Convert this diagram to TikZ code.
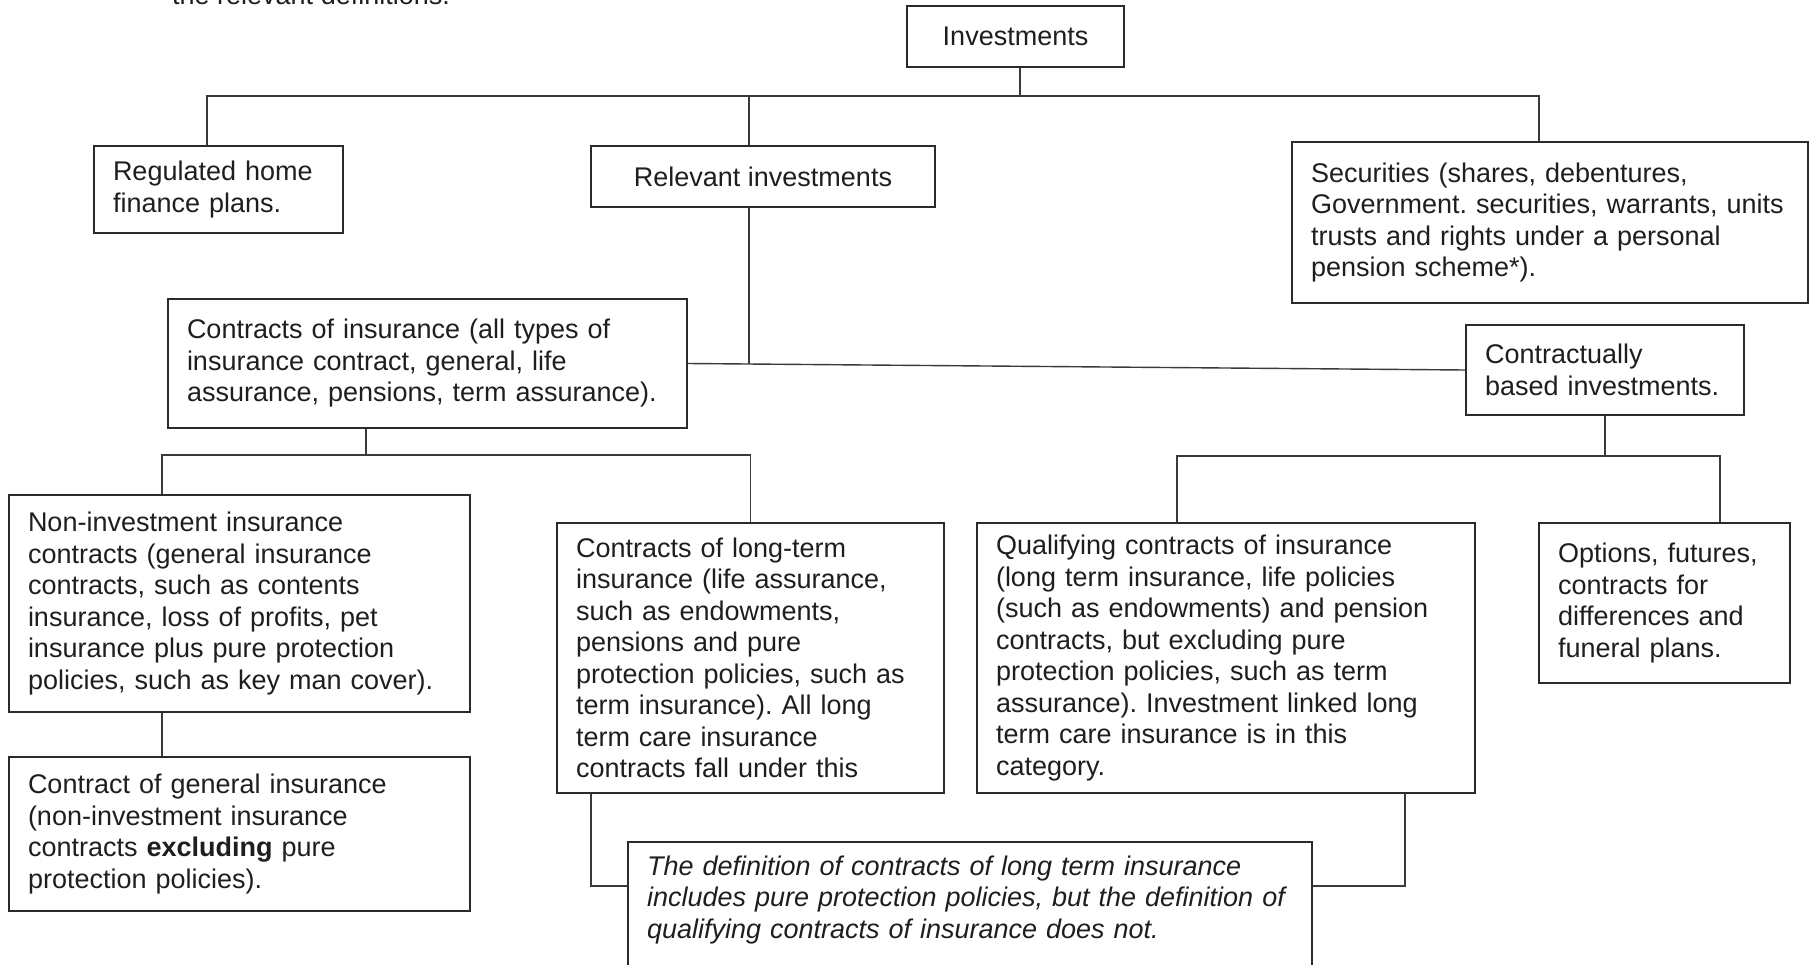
\documentclass[tikz,border=0pt]{standalone}
\usepackage{fontspec}
\setmainfont{Liberation Sans}
\frenchspacing
\definecolor{boxline}{HTML}{2B2B2B}
\definecolor{linkline}{HTML}{3A3A3A}
\definecolor{inktext}{HTML}{1E1E1E}
\tikzset{
  box/.style={draw=boxline, line width=2pt, text=inktext, inner ysep=0pt, inner xsep=19pt},
  tbox/.style 2 args={box, align=left, text width=#1pt-38pt, minimum width=#1pt, minimum height=#2pt},
  cbox/.style 2 args={box, inner xsep=0pt, minimum width=#1pt, minimum height=#2pt},
  link/.style={draw=linkline, line width=1.4pt},
}

\begin{document}
\begin{tikzpicture}[x=1pt, y=-1pt, font=\fontsize{27}{31.5}\selectfont]
\useasboundingbox (0,0) rectangle (1809,964);

\node[anchor=base west, inner sep=0pt, text=inktext] (cut) at (172,4) {the relevant definitions.};

\node[cbox={217}{61}] (inv) at (1015.5,36.5) {Investments};
\node[tbox={249}{87}] (reg) at (218.5,189.5) {Regulated home\\finance plans.};
\node[cbox={344}{61}] (rel) at (763,176.5) {Relevant investments};
\node[tbox={516}{161}] (sec) at (1550,222.5) {Securities (shares, debentures,\\Government. securities, warrants, units\\trusts and rights under a personal\\pension scheme*).};
\node[tbox={519}{129}] (cins) at (427.5,363.5) {Contracts of insurance (all types of\\insurance contract, general, life\\assurance, pensions, term assurance).};
\node[tbox={278}{90}] (cbi) at (1605,370) {Contractually\\based investments.};
\node[tbox={461}{217}] (nonins) at (239.5,603.5) {Non-investment insurance\\contracts (general insurance\\contracts, such as contents\\insurance, loss of profits, pet\\insurance plus pure protection\\policies, such as key man cover).};
\node[tbox={461}{154}] (gen) at (239.5,834) {Contract of general insurance\\(non-investment insurance\\contracts \textbf{excluding} pure\\protection policies).};
\node[tbox={387}{270}] (lti) at (750.5,658) {Contracts of long-term\\insurance (life assurance,\\such as endowments,\\pensions and pure\\protection policies, such as\\term insurance). All long\\term care insurance\\contracts fall under this};
\node[tbox={498}{270}] (qci) at (1226,658) {Qualifying contracts of insurance\\(long term insurance, life policies\\(such as endowments) and pension\\contracts, but excluding pure\\protection policies, such as term\\assurance). Investment linked long\\term care insurance is in this\\category.};
\node[tbox={251}{160}] (opt) at (1664.5,603) {Options, futures,\\contracts for\\differences and\\funeral plans.};
\node[tbox={684}{0}, anchor=north west, text height=33pt, text depth=120pt, font=\fontsize{27}{31.5}\selectfont\itshape] (def) at (627,841) {The definition of contracts of long term insurance\\includes pure protection policies, but the definition of\\qualifying contracts of insurance does not.};

\coordinate (toprow) at (0,96);
\coordinate (row2) at (0,455);
\coordinate (row3) at (0,456);
\coordinate (noteline) at (0,886);
\path (cins.east) -- (cbi.west) coordinate[pos=0.08] (midjoin);

\draw[link] ([xshift=4.5pt]inv.south) -- ([xshift=4.5pt]inv.south |- toprow);
\draw[link] ([xshift=-11.5pt]reg.north) |- ([xshift=-11pt]sec.north |- toprow) -- ([xshift=-11pt]sec.north);
\draw[link] ([xshift=-14pt]rel.north) -- ([xshift=-14pt]rel.north |- toprow);
\draw[link] ([xshift=-14pt]rel.south) -- ([xshift=-14pt]rel.south |- midjoin);
\draw[link] (cins.east) -- (cbi.west);
\draw[link] ([xshift=-61.5pt]cins.south) -- ([xshift=-61.5pt]cins.south |- row2);
\draw[link] ([xshift=-77.5pt]nonins.north) |- (lti.north |- row2) -- (lti.north);
\draw[link] ([xshift=-77.5pt]nonins.south) -- ([xshift=-77.5pt]gen.north);
\draw[link] (cbi.south) -- (cbi.south |- row3);
\draw[link] ([xshift=-49pt]qci.north) |- ([xshift=55.5pt]opt.north |- row3) -- ([xshift=55.5pt]opt.north);
\draw[link] ([xshift=-159.5pt]lti.south) |- (noteline -| def.west);
\draw[link] ([xshift=179pt]qci.south) |- (noteline -| def.east);
\end{tikzpicture}
\end{document}
